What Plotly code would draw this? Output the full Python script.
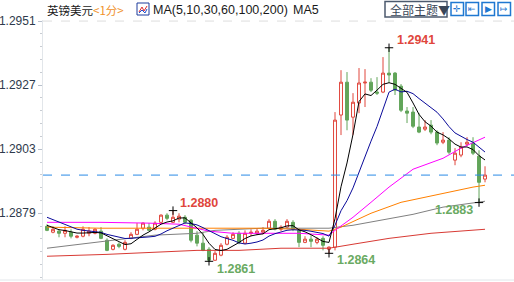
import plotly.graph_objects as go
import pandas as pd

# ---------------- data ----------------
idx = list(range(74))
opens = [1.28741,1.28719,1.28723,1.28715,1.28719,1.28700,1.28704,1.28715,1.28715,1.28723,
         1.28689,1.28655,1.28674,1.28655,1.28696,1.28711,1.28734,1.28738,1.28730,1.28756,
         1.28783,1.28756,1.28768,1.28775,1.28764,1.28708,1.28678,1.28655,1.28614,1.28633,
         1.28674,1.28696,1.28715,1.28678,1.28715,1.28715,1.28719,1.28734,1.28760,1.28730,
         1.28738,1.28756,1.28726,1.28681,1.28693,1.28681,1.28696,1.28655,1.28663,1.29158,
         1.29281,1.29150,1.29203,1.29278,1.29281,1.29244,1.29244,1.29315,1.29315,1.29266,
         1.29173,1.29169,1.29113,1.29105,1.29120,1.29094,1.29056,1.29064,1.28989,1.29008,
         1.29049,1.29053,1.29004,1.28918]
closes = [1.28726,1.28730,1.28715,1.28726,1.28704,1.28704,1.28730,1.28723,1.28730,1.28696,
          1.28651,1.28670,1.28666,1.28681,1.28711,1.28730,1.28753,1.28726,1.28753,1.28783,
          1.28771,1.28775,1.28779,1.28756,1.28689,1.28678,1.28651,1.28614,1.28640,1.28670,
          1.28700,1.28711,1.28681,1.28715,1.28719,1.28723,1.28726,1.28760,1.28730,1.28738,
          1.28760,1.28730,1.28681,1.28693,1.28685,1.28693,1.28670,1.28663,1.29139,1.29281,
          1.29139,1.29206,1.29278,1.29281,1.29251,1.29240,1.29315,1.29308,1.29251,1.29176,
          1.29165,1.29116,1.29094,1.29113,1.29094,1.29053,1.29064,1.29019,1.29015,1.29038,
          1.29056,1.29015,1.28906,1.28933]
highs = [1.28749,1.28741,1.28730,1.28741,1.28730,1.28708,1.28741,1.28738,1.28734,1.28738,
         1.28696,1.28674,1.28681,1.28689,1.28719,1.28753,1.28756,1.28753,1.28760,1.28786,
         1.28790,1.28800,1.28790,1.28783,1.28768,1.28723,1.28719,1.28663,1.28648,1.28678,
         1.28708,1.28719,1.28723,1.28726,1.28730,1.28734,1.28738,1.28768,1.28768,1.28745,
         1.28768,1.28764,1.28734,1.28704,1.28708,1.28700,1.28704,1.28666,1.29169,1.29326,
         1.29319,1.29240,1.29334,1.29330,1.29296,1.29300,1.29375,1.29410,1.29319,1.29274,
         1.29188,1.29188,1.29165,1.29139,1.29139,1.29101,1.29094,1.29075,1.29034,1.29056,
         1.29075,1.29075,1.29026,1.28966]
lows = [1.28723,1.28715,1.28700,1.28700,1.28696,1.28696,1.28700,1.28704,1.28711,1.28693,
        1.28648,1.28651,1.28659,1.28651,1.28693,1.28708,1.28726,1.28723,1.28726,1.28753,
        1.28764,1.28753,1.28756,1.28749,1.28681,1.28666,1.28648,1.28610,1.28612,1.28629,
        1.28670,1.28693,1.28674,1.28674,1.28704,1.28708,1.28711,1.28730,1.28726,1.28723,
        1.28734,1.28723,1.28663,1.28678,1.28663,1.28674,1.28651,1.28640,1.28651,1.29083,
        1.29101,1.29083,1.29165,1.29188,1.29244,1.29233,1.29240,1.29278,1.29233,1.29169,
        1.29128,1.29109,1.29090,1.29098,1.29086,1.29045,1.29049,1.29011,1.28970,1.29000,
        1.29041,1.29008,1.28830,1.28906]
# closes before the visible window (seed for MA5 / MA10)
prior_closes = [1.28820,1.28813,1.28805,1.28798,1.28790,1.28771,1.28756,1.28741,1.28730]

ma30_idx = [0, 9, 17, 22, 27, 31, 42, 47, 48, 51, 54, 57, 61, 64, 66, 69, 73]
ma30 = [1.28756,1.28756,1.28753,1.28749,1.28723,1.28715,1.28715,1.28708,1.28726,1.28775,
        1.28831,1.28888,1.28955,1.28978,1.28996,1.29034,1.29075]
ma60_idx = [0, 9, 25, 36, 42, 47, 49, 54, 59, 66, 71, 73]
ma60 = [1.28738,1.28734,1.28734,1.28734,1.28730,1.28723,1.28738,1.28790,1.28831,1.28865,
        1.28888,1.28895]
ma100_idx = [0, 7, 13, 18, 25, 28, 36, 47, 51, 57, 61, 66, 73]
ma100 = [1.28659,1.28678,1.28696,1.28708,1.28715,1.28726,1.28734,1.28734,1.28745,1.28771,
         1.28786,1.28813,1.28835]
ma200_idx = [0, 10, 25, 32, 39, 47, 51, 57, 64, 73]
ma200 = [1.28629,1.28636,1.28651,1.28651,1.28659,1.28659,1.28674,1.28696,1.28715,1.28730]

ytick_vals = [1.2951, 1.2927, 1.2903, 1.2879]
high_marks = [21, 57]
low_marks = [27, 47, 72]

# ---------------- styling ----------------
RED = "#e0463c"
GREEN = "#62a55a"
LBL_GREEN = "#6aaa62"
W, H = 514, 282
L, R, T, B = 43, 0, 20, 2
PW, PH = W - L - R, H - T - B

def px(x):  # pixel x -> paper
    return (x - L) / PW

def py(y):  # pixel y -> paper
    return 1 - (y - T) / PH

allc = pd.Series(prior_closes + closes)
ma5 = allc.rolling(5).mean().iloc[len(prior_closes):].tolist()
ma10 = allc.rolling(10).mean().iloc[len(prior_closes):].tolist()

fig = go.Figure()
fig.add_trace(go.Candlestick(
    x=idx, open=opens, high=highs, low=lows, close=closes,
    increasing=dict(line=dict(color=RED, width=1), fillcolor="white"),
    decreasing=dict(line=dict(color=GREEN, width=1), fillcolor=GREEN),
    whiskerwidth=0, hoverinfo="skip", showlegend=False))

for xs, ys, col in [(ma200_idx, ma200, "#d83a34"), (ma100_idx, ma100, "#808080"),
                    (ma60_idx, ma60, "#ff8000"), (ma30_idx, ma30, "#ff00ff"),
                    (idx, ma10, "#0a0a9a"), (idx, ma5, "#000000")]:
    fig.add_trace(go.Scatter(x=xs, y=ys, mode="lines", line=dict(color=col, width=1),
                             hoverinfo="skip", showlegend=False))

# extreme markers
mk_x = [idx[i] for i in high_marks] + [idx[i] for i in low_marks]
mk_y = [highs[i] for i in high_marks] + [lows[i] for i in low_marks]
fig.add_trace(go.Scatter(x=mk_x, y=mk_y, mode="markers",
                         marker=dict(symbol="cross-thin", size=6, line=dict(color="black", width=1)),
                         hoverinfo="skip", showlegend=False))

ann = []
lab_font = dict(family="Liberation Sans, Arial", size=12.5, color=RED)
for i, (dx, dy) in zip(high_marks, [(5, 8), (6, 8)]):
    ann.append(dict(x=idx[i], y=highs[i], text=f"<b>{highs[i]:.4f}</b>", showarrow=False,
                    xanchor="left", yanchor="middle", xshift=dx, yshift=dy, font=lab_font))
for i, (dx, dy, xa) in zip(low_marks, [(6, -8, "left"), (6, -7, "left"), (-4, -7, "right")]):
    ann.append(dict(x=idx[i], y=lows[i], text=f"<b>{lows[i]:.4f}</b>", showarrow=False,
                    xanchor=xa, yanchor="middle", xshift=dx, yshift=dy,
                    font=dict(family="Liberation Sans, Arial", size=12.5, color=LBL_GREEN)))

# header texts
hy = py(10)
ann.append(dict(xref="paper", yref="paper", x=px(45), y=hy, text="英镑美元", showarrow=False,
                xanchor="left", yanchor="middle",
                font=dict(family="Noto Sans CJK SC", size=11.5, color="#1a1a1a")))
ann.append(dict(xref="paper", yref="paper", x=px(91), y=hy, text="&lt;1分&gt;", showarrow=False,
                xanchor="left", yanchor="middle",
                font=dict(family="Noto Sans CJK SC", size=11.5, color="#f0902a")))
ann.append(dict(xref="paper", yref="paper", x=px(151), y=hy, text="MA(5,10,30,60,100,200)",
                showarrow=False, xanchor="left", yanchor="middle",
                font=dict(family="Liberation Sans, Arial", size=12.5, color="#1a1a1a")))
ann.append(dict(xref="paper", yref="paper", x=px(291), y=hy, text="MA5",
                showarrow=False, xanchor="left", yanchor="middle",
                font=dict(family="Liberation Sans, Arial", size=12.5, color="#1a1a1a")))
ann.append(dict(xref="paper", yref="paper", x=px(388), y=hy, text="全部主题▼", showarrow=False,
                xanchor="left", yanchor="middle",
                font=dict(family="Noto Sans CJK SC", size=12, color="#3a4658")))
for cx, g in zip([457, 472, 488, 504], ["✛", "⇤", "▶", "↦"]):
    ann.append(dict(xref="paper", yref="paper", x=px(cx), y=py(9), text=g, showarrow=False,
                    xanchor="center", yanchor="middle",
                    font=dict(family="DejaVu Sans", size=9, color="#1f78d1")))

shapes = []
# current price dashed line
shapes.append(dict(type="line", xref="paper", yref="y", x0=0, x1=1, y0=closes[-1], y1=closes[-1],
                   line=dict(color="#2a8ae6", width=1, dash="dash")))
# top dashed grid line
shapes.append(dict(type="line", xref="paper", yref="y", x0=0, x1=1, y0=ytick_vals[0], y1=ytick_vals[0],
                   line=dict(color="#dddddd", width=1, dash="dash")))
# bottom border line
shapes.append(dict(type="line", xref="paper", yref="paper", x0=px(0), x1=1, y0=py(280), y1=py(280),
                   line=dict(color="#e2e6ea", width=1)))
# header icon
shapes.append(dict(type="rect", xref="paper", yref="paper", x0=px(137), x1=px(149), y0=py(15), y1=py(3),
                   line=dict(color="#1e3c9c", width=1), fillcolor="white"))
shapes.append(dict(type="path", xref="paper", yref="paper",
                   path=f"M {px(139)} {py(12)} L {px(142)} {py(7)} L {px(144)} {py(11)} L {px(147)} {py(6)}",
                   line=dict(color="#e03030", width=1)))
shapes.append(dict(type="path", xref="paper", yref="paper",
                   path=f"M {px(139)} {py(13)} L {px(142)} {py(10)} L {px(145)} {py(13)} L {px(147)} {py(9)}",
                   line=dict(color="#2050d0", width=1)))
# theme button box
shapes.append(dict(type="rect", xref="paper", yref="paper", x0=px(385), x1=px(447), y0=py(17), y1=py(1.5),
                   line=dict(color="#4c5a6e", width=1.5), fillcolor="rgba(0,0,0,0)"))
for x0 in [451, 466, 482, 498]:
    shapes.append(dict(type="rect", xref="paper", yref="paper", x0=px(x0), x1=px(x0 + 12.5),
                       y0=py(15.5), y1=py(2.5), line=dict(color="#1f78d1", width=1.5),
                       fillcolor="rgba(0,0,0,0)"))

fig.update_layout(
    width=W, height=H, autosize=False,
    margin=dict(l=L, r=R, t=T, b=B),
    paper_bgcolor="white", plot_bgcolor="white",
    showlegend=False,
    annotations=ann, shapes=shapes,
    xaxis=dict(range=[-0.667, 77.83], visible=False, rangeslider=dict(visible=False),
               showgrid=False, zeroline=False),
    yaxis=dict(range=[1.28540, 1.29514], tickvals=ytick_vals,
               ticktext=[f"{v:.4f}" for v in ytick_vals],
               showgrid=False, zeroline=False, showline=True, linecolor="#e2e6ea", linewidth=1,
               ticks="outside", ticklen=4, tickcolor="#b8c0cc",
               tickfont=dict(family="Liberation Sans, Arial", size=12, color="#2e3a4c"),
               minor=dict(dtick=0.00048, tick0=1.2879, ticks="outside", ticklen=2,
                          tickcolor="#c8ccd2", showgrid=False)),
)

fig.write_html("out.html")
